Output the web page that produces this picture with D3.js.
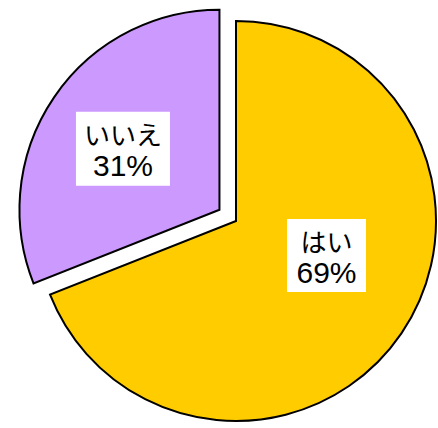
<!DOCTYPE html>
<html>
<head>
<meta charset="utf-8">
<script src="https://cdn.jsdelivr.net/npm/d3@7"></script>
<style>
  body { margin: 0; background: #fff; }
</style>
</head>
<body>
<svg id="chart" width="438" height="428"></svg>
<script>
const categories = ['はい', 'いいえ'];
const values = [69, 31];
const colors = ['#FFCC00', '#CC99FF'];
const labels = ['69%', '31%'];

const svg = d3.select('#chart');
const cx = 236, cy = 221, r = 200;
const explode = [0, 20];

const pie = d3.pie().sort(null).value(d => d.value);
const arc = d3.arc().innerRadius(0).outerRadius(r);

const data = categories.map((c, i) => ({ name: c, value: values[i], color: colors[i], label: labels[i], off: explode[i] }));
const arcs = pie(data);

const g = svg.append('g').attr('transform', 'translate(' + cx + ',' + cy + ')');

const slices = g.selectAll('g.slice')
  .data(arcs)
  .enter()
  .append('g')
    .attr('class', 'slice')
    .attr('transform', d => {
      const mid = (d.startAngle + d.endAngle) / 2;
      return 'translate(' + (Math.sin(mid) * d.data.off) + ',' + (-Math.cos(mid) * d.data.off) + ')';
    });

slices.append('path')
  .attr('d', arc)
  .attr('fill', d => d.data.color)
  .attr('stroke', '#000')
  .attr('stroke-width', 2)
  .attr('stroke-linejoin', 'miter');

// label box centres, relative to each slice's centre
const labelPos = [[90.5, 34.5], [-96.5, -61]];
const boxSize = [[79, 73], [94, 74]];

slices.each(function(d, i) {
  const s = d3.select(this);
  const [lx, ly] = labelPos[i];
  const [bw, bh] = boxSize[i];
  s.append('rect')
    .attr('x', lx - bw / 2).attr('y', ly - bh / 2)
    .attr('width', bw).attr('height', bh)
    .attr('fill', '#fff');
  s.append('text')
    .attr('x', lx).attr('y', ly - 15.5)
    .attr('text-anchor', 'middle')
    .attr('dominant-baseline', 'central')
    .attr('font-family', '"Noto Sans CJK JP", sans-serif')
    .attr('font-size', 26)
    .attr('fill', '#000')
    .text(d.data.name);
  s.append('text')
    .attr('x', lx).attr('y', ly + 27)
    .attr('text-anchor', 'middle')
    .attr('font-family', '"Liberation Sans", Arial, sans-serif')
    .attr('font-size', 30)
    .attr('fill', '#000')
    .text(d.data.label);
});
</script>
</body>
</html>
